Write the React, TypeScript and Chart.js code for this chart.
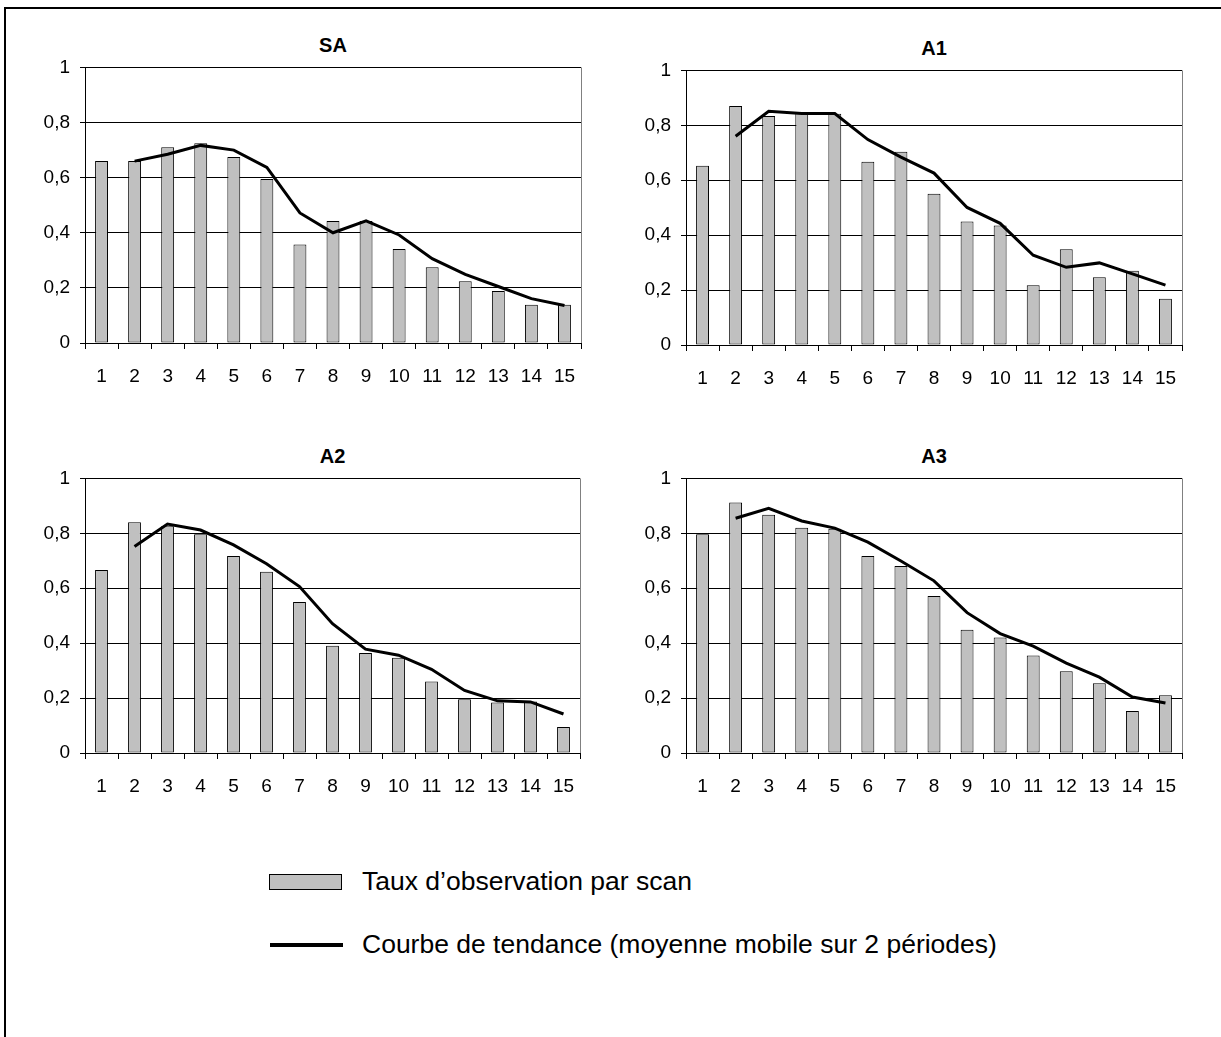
import React, { useEffect, useRef } from "react";
import { Chart, registerables } from "chart.js";

Chart.register(...registerables);

const CATEGORIES = ["1", "2", "3", "4", "5", "6", "7", "8", "9", "10", "11", "12", "13", "14", "15"];

const SA_BARS = [0.66, 0.66, 0.71, 0.725, 0.675, 0.595, 0.357, 0.443, 0.443, 0.341, 0.275, 0.224, 0.189, 0.139, 0.139];
const SA_TREND = [null, 0.66, 0.685, 0.717, 0.7, 0.637, 0.472, 0.4, 0.443, 0.392, 0.306, 0.249, 0.205, 0.161, 0.136];

const A1_BARS = [0.653, 0.87, 0.834, 0.847, 0.842, 0.667, 0.704, 0.551, 0.45, 0.435, 0.218, 0.349, 0.247, 0.27, 0.168];
const A1_TREND = [null, 0.76, 0.851, 0.843, 0.843, 0.748, 0.684, 0.626, 0.501, 0.443, 0.327, 0.283, 0.299, 0.259, 0.218];

const A2_BARS = [0.666, 0.84, 0.826, 0.797, 0.717, 0.66, 0.55, 0.391, 0.364, 0.347, 0.26, 0.196, 0.184, 0.188, 0.095];
const A2_TREND = [null, 0.752, 0.834, 0.812, 0.758, 0.689, 0.606, 0.471, 0.378, 0.356, 0.305, 0.228, 0.19, 0.186, 0.142];

const A3_BARS = [0.797, 0.912, 0.868, 0.82, 0.817, 0.717, 0.681, 0.572, 0.449, 0.421, 0.355, 0.298, 0.254, 0.153, 0.21];
const A3_TREND = [null, 0.855, 0.891, 0.845, 0.819, 0.768, 0.699, 0.627, 0.511, 0.435, 0.389, 0.327, 0.276, 0.204, 0.182];

const BAR_LABEL = "Taux d\u2019observation par scan";
const TREND_LABEL = "Courbe de tendance (moyenne mobile sur 2 p\u00e9riodes)";

const FONT = "'Liberation Sans', Arial, Helvetica, sans-serif";
const TICK_SIZE = 19;

const Y_AXIS_W = 70;
const X_AXIS_H = 52;
const PAD_TOP = 20;
const PAD_RIGHT = 16;

const rightBorderPlugin = {
  id: "rightBorder",
  afterDraw(chart: any) {
    const { ctx, chartArea } = chart;
    ctx.save();
    ctx.strokeStyle = "#808080";
    ctx.lineWidth = 1;
    ctx.beginPath();
    ctx.moveTo(Math.round(chartArea.right) + 0.5, chartArea.top);
    ctx.lineTo(Math.round(chartArea.right) + 0.5, chartArea.bottom);
    ctx.stroke();
    ctx.restore();
  },
};

type PanelProps = {
  title: string;
  bars: number[];
  trend: (number | null)[];
  plotLeft: number;
  plotTop: number;
  plotW: number;
  plotH: number;
};

function Panel({ title, bars, trend, plotLeft, plotTop, plotW, plotH }: PanelProps) {
  const ref = useRef<HTMLCanvasElement | null>(null);
  const cw = plotW + Y_AXIS_W + PAD_RIGHT;
  const ch = plotH + PAD_TOP + X_AXIS_H;

  useEffect(() => {
    if (!ref.current) return;
    const chart = new Chart(ref.current, {
      type: "bar",
      data: {
        labels: CATEGORIES,
        datasets: [
          {
            type: "line",
            label: TREND_LABEL,
            data: trend,
            borderColor: "#000",
            borderWidth: 3,
            pointRadius: 0,
            tension: 0,
            fill: false,
            order: 0,
          } as any,
          {
            type: "bar",
            label: BAR_LABEL,
            data: bars,
            backgroundColor: "#c0c0c0",
            borderColor: "#000",
            borderWidth: 1,
            borderSkipped: false,
            barPercentage: 0.39,
            categoryPercentage: 1,
            order: 1,
          } as any,
        ],
      },
      options: {
        responsive: false,
        animation: false,
        devicePixelRatio: 1,
        layout: { padding: { left: 0, right: PAD_RIGHT, top: PAD_TOP, bottom: 0 } },
        plugins: { legend: { display: false }, title: { display: false }, tooltip: { enabled: false } },
        scales: {
          x: {
            offset: true,
            grid: { display: true, drawOnChartArea: false, drawTicks: true, tickLength: 6, color: "#000", offset: true },
            border: { display: true, color: "#000", width: 1 },
            ticks: { color: "#000", font: { family: FONT, size: TICK_SIZE }, padding: 16, maxRotation: 0, autoSkip: false },
            afterFit(scale: any) {
              scale.height = X_AXIS_H;
            },
          },
          y: {
            min: 0,
            max: 1,
            grid: { color: "#000", lineWidth: 1, drawTicks: true, tickLength: 5 },
            border: { display: true, color: "#000", width: 1 },
            ticks: {
              stepSize: 0.2,
              color: "#000",
              font: { family: FONT, size: TICK_SIZE },
              padding: 10,
              callback: (v: any) => String(Math.round(Number(v) * 10) / 10).replace(".", ","),
            },
            afterFit(scale: any) {
              scale.width = Y_AXIS_W;
            },
          },
        },
      },
      plugins: [rightBorderPlugin],
    });
    return () => chart.destroy();
  }, [bars, trend]);

  return (
    <>
      <div
        style={{
          position: "absolute",
          left: plotLeft,
          top: plotTop - 32,
          width: plotW,
          textAlign: "center",
          fontFamily: FONT,
          fontWeight: "bold",
          fontSize: 20,
          lineHeight: "22px",
          color: "#000",
        }}
      >
        {title}
      </div>
      <canvas
        ref={ref}
        width={cw}
        height={ch}
        style={{ position: "absolute", left: plotLeft - Y_AXIS_W, top: plotTop - PAD_TOP, width: cw, height: ch }}
      />
    </>
  );
}

export default function App() {
  return (
    <div
      style={{
        position: "absolute",
        left: 0,
        top: 0,
        width: 1221,
        height: 1037,
        background: "#fff",
        overflow: "hidden",
      }}
    >
      <div
        style={{
          position: "absolute",
          left: 4,
          top: 7,
          width: 1240,
          height: 1060,
          borderLeft: "2px solid #000",
          borderTop: "2px solid #000",
        }}
      />
      <Panel title="SA" bars={SA_BARS} trend={SA_TREND} plotLeft={85} plotTop={66} plotW={496} plotH={277} />
      <Panel title="A1" bars={A1_BARS} trend={A1_TREND} plotLeft={686} plotTop={69} plotW={496} plotH={276} />
      <Panel title="A2" bars={A2_BARS} trend={A2_TREND} plotLeft={85} plotTop={477} plotW={495} plotH={276} />
      <Panel title="A3" bars={A3_BARS} trend={A3_TREND} plotLeft={686} plotTop={477} plotW={496} plotH={276} />

      <div style={{ position: "absolute", left: 269, top: 874, width: 73, height: 16, background: "#c0c0c0", border: "1px solid #000", boxSizing: "border-box" }} />
      <div style={{ position: "absolute", left: 362, top: 866, fontFamily: FONT, fontSize: 26.5, lineHeight: "30px", color: "#000", whiteSpace: "nowrap" }}>
        {BAR_LABEL}
      </div>
      <div style={{ position: "absolute", left: 270, top: 943, width: 73, height: 4, background: "#000" }} />
      <div style={{ position: "absolute", left: 362, top: 929, fontFamily: FONT, fontSize: 26.5, lineHeight: "30px", color: "#000", whiteSpace: "nowrap" }}>
        {TREND_LABEL}
      </div>
    </div>
  );
}
